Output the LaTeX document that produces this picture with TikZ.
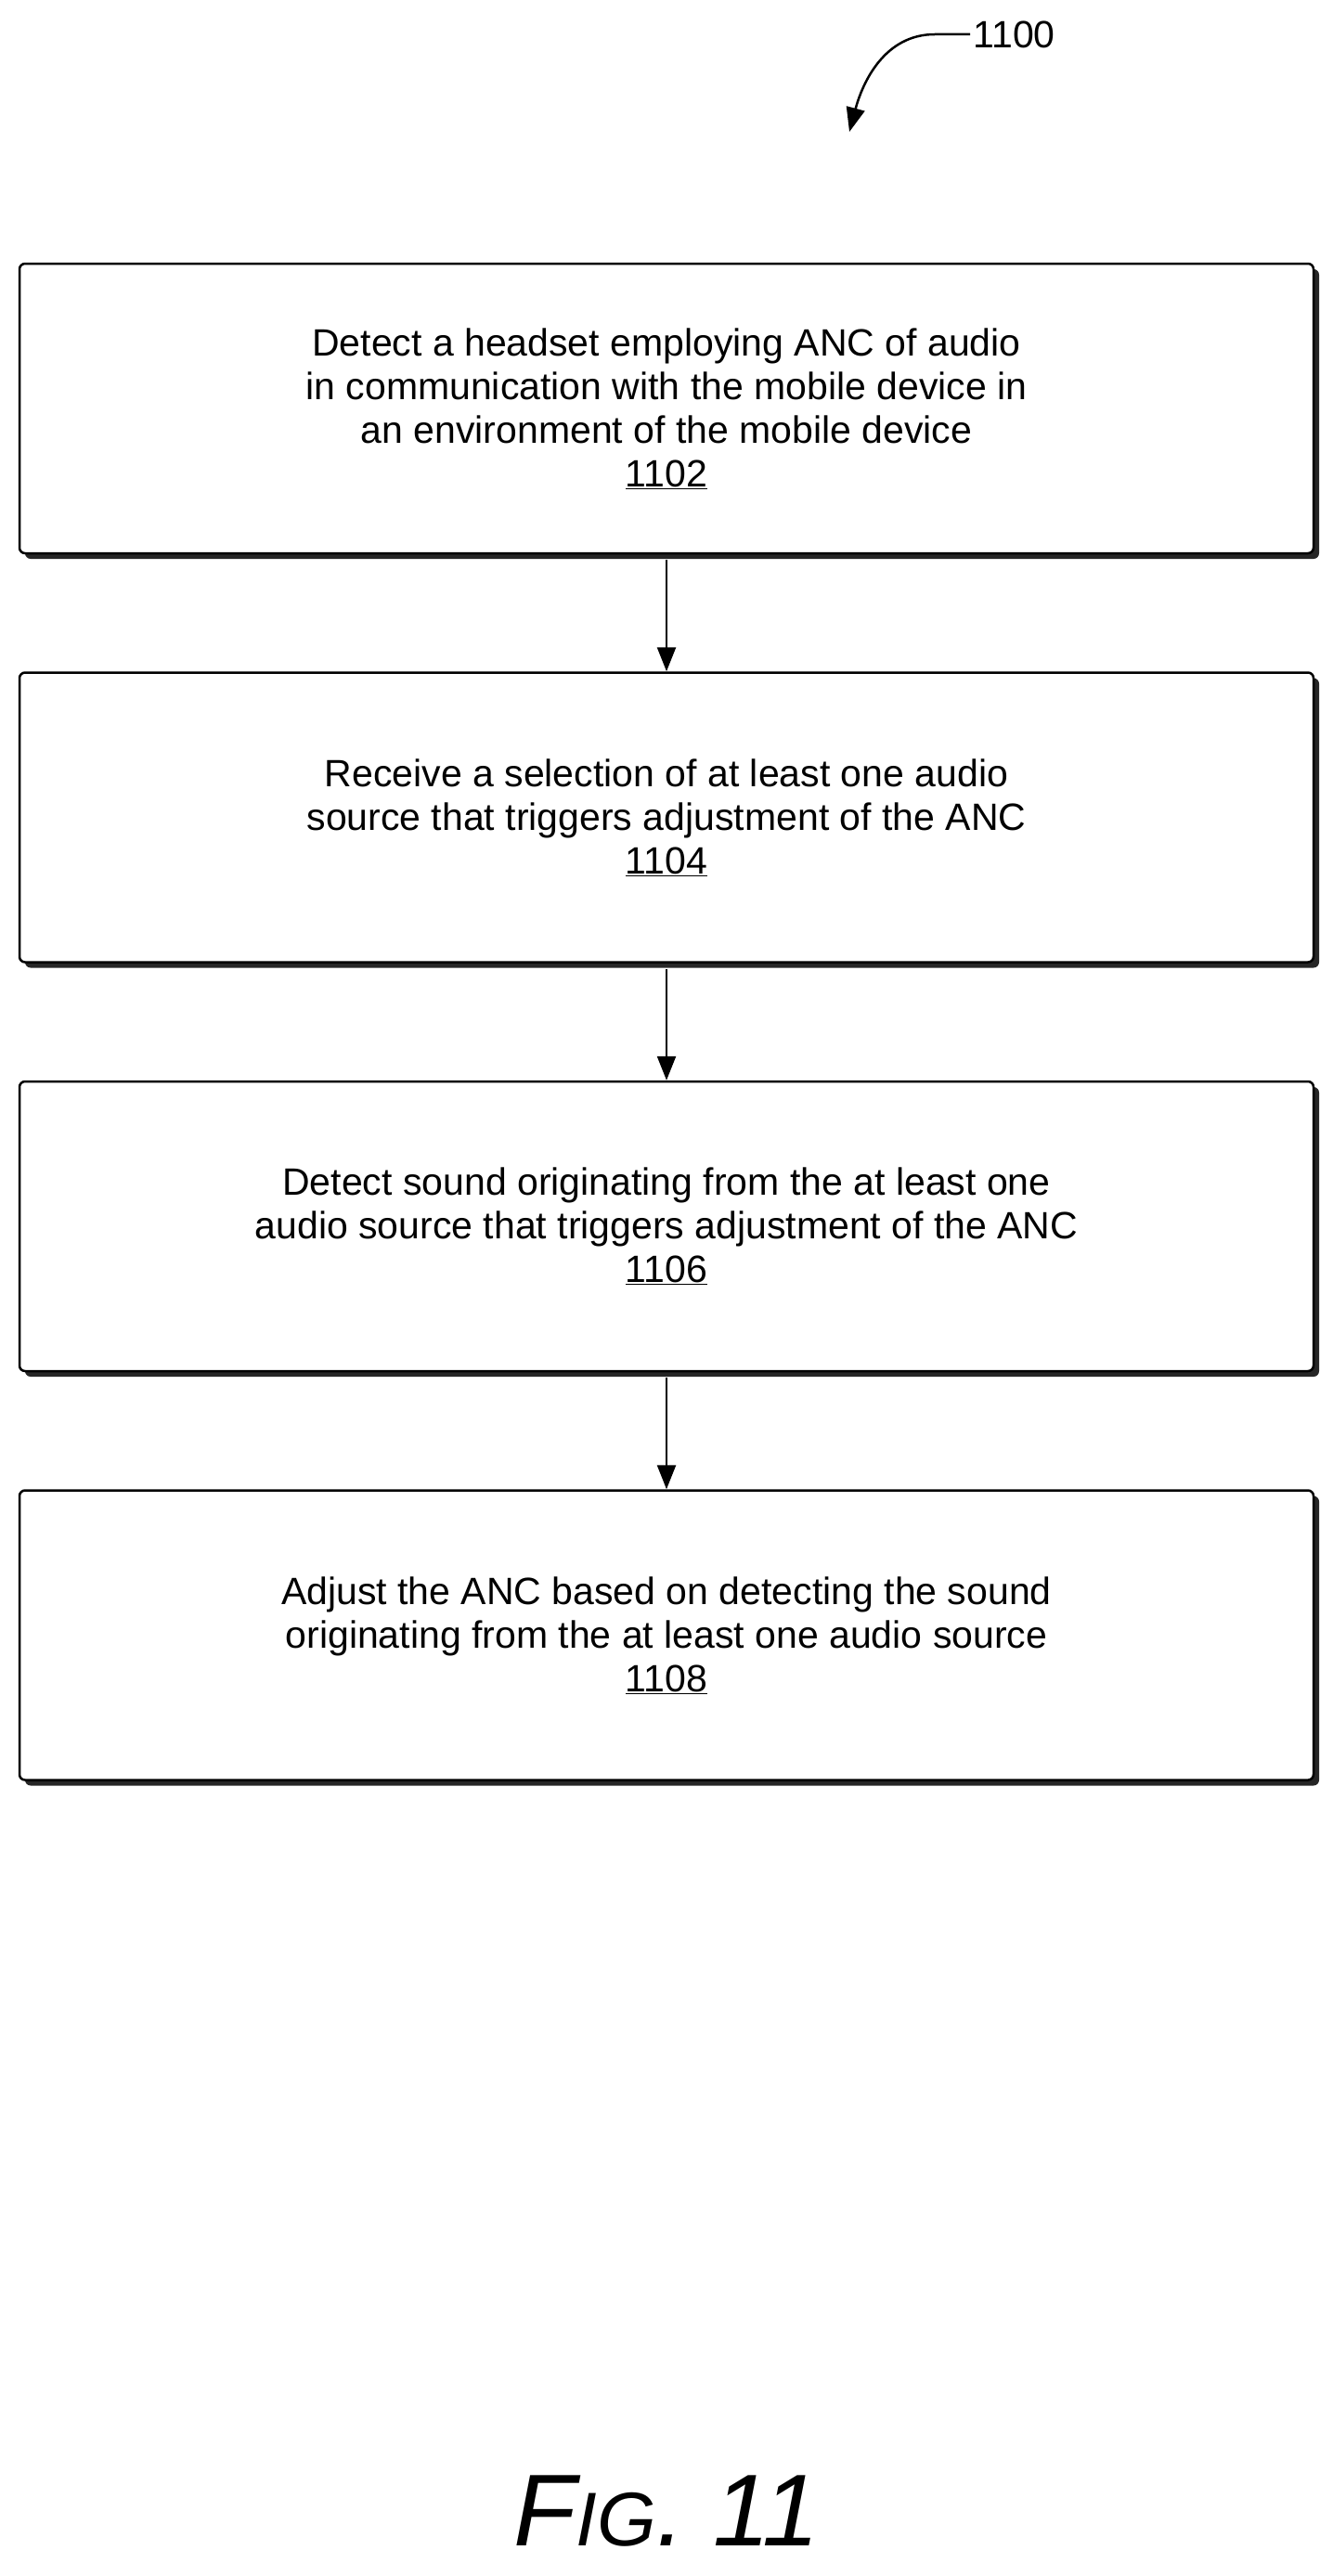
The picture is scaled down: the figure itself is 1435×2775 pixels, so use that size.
\documentclass[tikz,border=0pt]{standalone}
\usepackage{fontspec}
\setmainfont{Liberation Sans}
\usetikzlibrary{positioning,arrows.meta,shadows}

\tikzset{
  block/.style={draw, line width=2.5pt, rounded corners=6pt, fill=white,
    minimum width=1394pt, minimum height=312pt, align=center,
    font=\fontsize{41}{47}\selectfont,
    drop shadow={shadow xshift=6pt, shadow yshift=-6pt, fill=black!85, opacity=1}},
  flow/.style={line width=2.5pt, -{Triangle[length=26pt,width=20pt]}}
}

\begin{document}
\begin{tikzpicture}[x=1pt,y=1pt]
\useasboundingbox (0,0) rectangle (1435,-2775);

% reference label
\node[font=\fontsize{41}{47}\selectfont, anchor=west] (ref) at (1045,-37) {1100};
\coordinate (refend) at (915,-142);
\draw[flow] (ref.west) -- ++(-38,0) to[out=180,in=75] (refend);

% steps
\node[block] (s1) at (718,-440) {Detect a headset employing ANC of audio\\
  in communication with the mobile device in\\
  an environment of the mobile device\\ \underline{1102}};
\node[block, below=126pt of s1] (s2) {Receive a selection of at least one audio\\
  source that triggers adjustment of the ANC\\ \underline{1104}};
\node[block, below=126pt of s2] (s3) {Detect sound originating from the at least one\\
  audio source that triggers adjustment of the ANC\\ \underline{1106}};
\node[block, below=126pt of s3] (s4) {Adjust the ANC based on detecting the sound\\
  originating from the at least one audio source\\ \underline{1108}};

\foreach \a/\b in {s1/s2, s2/s3, s3/s4}
  \draw[flow] (\a.south) ++(0,-6) -- (\b.north);

% figure caption
\node[font=\fontsize{110}{120}\selectfont\itshape] (fig) at (718,-2705)
  {F{\fontsize{82}{90}\selectfont IG}. 11};
\end{tikzpicture}
\end{document}
